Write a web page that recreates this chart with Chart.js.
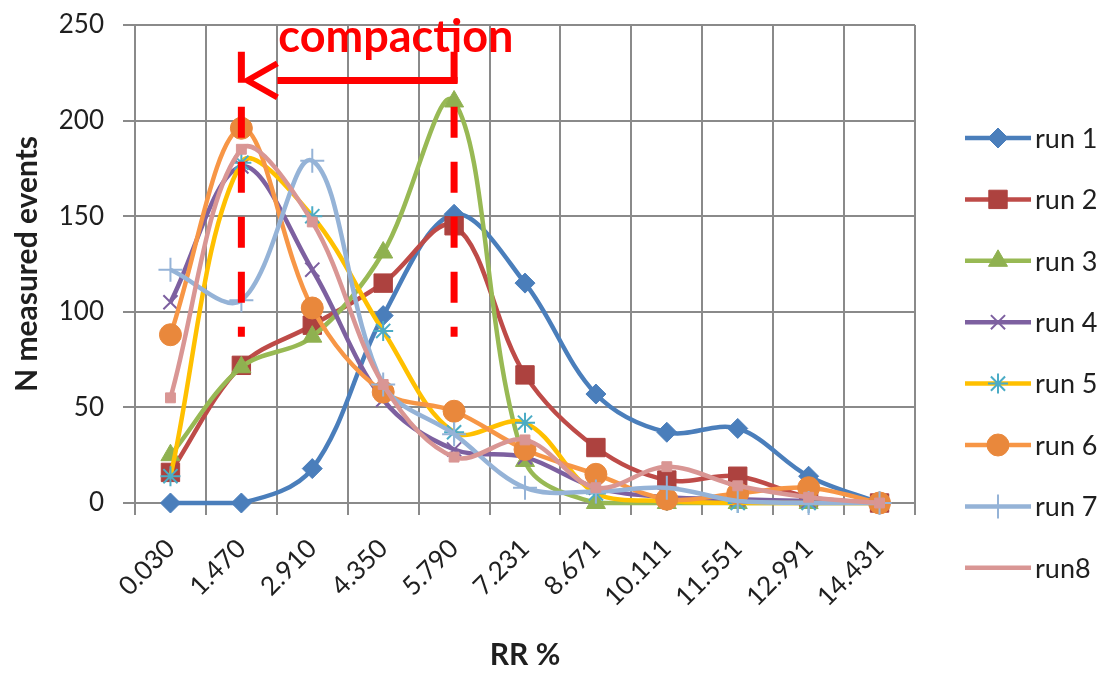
<!DOCTYPE html>
<html>
<head>
<meta charset="utf-8">
<script src="https://cdn.jsdelivr.net/npm/chart.js@4/dist/chart.umd.min.js"></script>
<style>
  html, body { margin: 0; padding: 0; background: #fff; }
  canvas { display: block; }
</style>
</head>
<body>
<canvas id="rrChart" width="1110" height="675"></canvas>
<script>
// RR % bins (category axis)
const rrBins = ["0.030", "1.470", "2.910", "4.350", "5.790", "7.231", "8.671", "10.111", "11.551", "12.991", "14.431"];

// N measured events per run
const run1 = [0, 0, 18, 98, 151, 115, 57, 37, 39, 14, 0];
const run2 = [16, 72, 93, 115, 145, 67, 29, 12, 14, 3, 0];
const run3 = [25, 71, 87, 131, 210, 22, 0, 0, 0, 0, 0];
const run4 = [105, 176, 122, 54, 28, 24, 8, 3, 2, 1, 0];
const run5 = [14, 178, 150, 90, 37, 42, 5, 1, 0, 0, 0];
const run6 = [88, 196, 102, 58, 48, 28, 15, 2, 5, 8, 0];
const run7 = [122, 106, 179, 62, 36, 8, 6, 8, 1, 0, 0];
const run8 = [55, 185, 147, 62, 24, 33, 8, 19, 9, 3, 0];

const runNames = ["run 1", "run 2", "run 3", "run 4", "run 5", "run 6", "run 7", "run8"];
const yTicks = [0, 50, 100, 150, 200, 250];

// bins marked by the "compaction" arrow (from -> to)
const compactionFrom = 4;
const compactionTo = 1;

const gridColor = "#8a8a8a";
const textColor = "#1f1f1f";

// line colour, marker shape, marker size, marker fill, marker outline
const runStyles = [
  { line: "#4a7ebb", shape: "rectRot", size: 10, fill: "#4a7ebb", edge: "#4a7ebb", edgeW: 1 },
  { line: "#be4b48", shape: "rect", size: 13, fill: "#ad423f", edge: "#ad423f", edgeW: 1 },
  { line: "#98b954", shape: "triangle", size: 11, fill: "#8fb150", edge: "#8fb150", edgeW: 1 },
  { line: "#7d60a0", shape: "crossRot", size: 10, fill: "#7d60a0", edge: "#7d60a0", edgeW: 2 },
  { line: "#ffc000", shape: "star", size: 10, fill: "#4bacc6", edge: "#4bacc6", edgeW: 2 },
  { line: "#f79646", shape: "circle", size: 11, fill: "#e9883c", edge: "#e9883c", edgeW: 1 },
  { line: "#95b3d7", shape: "cross", size: 12, fill: "#95b3d7", edge: "#95b3d7", edgeW: 2 },
  { line: "#d99694", shape: "rect", size: 7, fill: "#d99694", edge: "#d99694", edgeW: 1, noLegendMarker: true },
];

const runValues = [run1, run2, run3, run4, run5, run6, run7, run8];

const datasets = runValues.map((values, i) => {
  const s = runStyles[i];
  return {
    label: runNames[i],
    data: values,
    borderColor: s.line,
    backgroundColor: s.line,
    borderWidth: 4.5,
    tension: 0.35,
    pointStyle: s.shape,
    pointRadius: s.size,
    pointBackgroundColor: s.fill,
    pointBorderColor: s.edge,
    pointBorderWidth: s.edgeW,
    clip: false,
    order: runValues.length - i, // later runs on top, like Excel
  };
});

// Excel-like legend: short line with the marker in its middle
const excelLegend = {
  id: "excelLegend",
  afterDraw(chart) {
    const { ctx, chartArea } = chart;
    const x0 = chartArea.right + 50;
    const lineLen = 66;
    ctx.save();
    chart.data.datasets.forEach((ds, i) => {
      const s = runStyles[i];
      const y = chartArea.top + 113 + i * 61.4;
      ctx.setLineDash([]);
      ctx.strokeStyle = s.line;
      ctx.lineWidth = 4.5;
      ctx.beginPath();
      ctx.moveTo(x0, y);
      ctx.lineTo(x0 + lineLen, y);
      ctx.stroke();
      if (!s.noLegendMarker) {
        ctx.fillStyle = s.fill;
        ctx.strokeStyle = s.edge;
        ctx.lineWidth = s.edgeW;
        Chart.helpers.drawPoint(ctx, { pointStyle: s.shape, radius: s.size, rotation: 0, borderWidth: s.edgeW }, x0 + lineLen / 2, y);
      }
      ctx.fillStyle = textColor;
      ctx.font = "27px Lato";
      ctx.textAlign = "left";
      ctx.textBaseline = "middle";
      ctx.fillText(ds.label, x0 + lineLen + 4, y + 1);
    });
    ctx.restore();
  },
};

// red "compaction" bracket and dashed guide lines
const compactionNote = {
  id: "compactionNote",
  afterDatasetsDraw(chart) {
    const { ctx } = chart;
    const xs = chart.scales.x;
    const ys = chart.scales.y;
    const xa = xs.getPixelForValue(compactionTo);
    const xb = xs.getPixelForValue(compactionFrom);
    const yTop = ys.getPixelForValue(236);
    const yArrow = ys.getPixelForValue(221);
    const yEnd = ys.getPixelForValue(87);
    ctx.save();
    ctx.strokeStyle = "#ff0000";
    ctx.fillStyle = "#ff0000";
    ctx.lineWidth = 7;
    ctx.lineCap = "butt";
    ctx.setLineDash([31, 24]);
    [xa, xb].forEach((px) => {
      ctx.beginPath();
      ctx.moveTo(px, yTop);
      ctx.lineTo(px, yEnd);
      ctx.stroke();
    });
    ctx.setLineDash([]);
    ctx.beginPath();
    ctx.moveTo(xa + 36, yArrow);
    ctx.lineTo(xb + 3.5, yArrow);
    ctx.stroke();
    ctx.lineWidth = 6;
    ctx.beginPath();
    ctx.moveTo(xa + 36, yArrow - 17);
    ctx.lineTo(xa + 6, yArrow);
    ctx.lineTo(xa + 36, yArrow + 17);
    ctx.stroke();
    ctx.font = "bold 45px Lato";
    ctx.textAlign = "left";
    ctx.textBaseline = "alphabetic";
    ctx.fillText("compaction", xa + 37, yTop);
    ctx.restore();
  },
};

new Chart(document.getElementById("rrChart"), {
  type: "line",
  data: { labels: rrBins, datasets },
  plugins: [compactionNote, excelLegend],
  options: {
    responsive: false,
    animation: false,
    layout: { padding: { left: 0, right: 195, top: 25, bottom: 0 } },
    plugins: {
      legend: { display: false },
      tooltip: { enabled: false },
    },
    scales: {
      x: {
        offset: true,
        grid: { offset: true, color: gridColor, lineWidth: 2, tickLength: 12 },
        border: { color: gridColor, width: 2 },
        ticks: {
          minRotation: 45,
          maxRotation: 45,
          autoSkip: false,
          padding: 18,
          color: textColor,
          font: { family: "Lato", size: 26 },
        },
        title: {
          display: true,
          text: "RR %",
          color: textColor,
          font: { family: "Lato", size: 30, weight: "bold" },
          padding: { top: 0, bottom: 2 },
        },
        afterFit: (scale) => { scale.height = 172; },
      },
      y: {
        min: yTicks[0],
        max: yTicks[yTicks.length - 1],
        grid: { color: gridColor, lineWidth: 2, tickLength: 12 },
        border: { color: gridColor, width: 2 },
        ticks: {
          stepSize: yTicks[1] - yTicks[0],
          padding: 19,
          color: textColor,
          font: { family: "Lato", size: 26 },
        },
        title: {
          display: true,
          text: "N measured events",
          color: textColor,
          font: { family: "Lato", size: 30, weight: "bold" },
          padding: { top: 9, bottom: 0 },
        },
        afterFit: (scale) => {
          scale.width = 135;
          scale.paddingTop = 0;
        },
      },
    },
  },
});
</script>
</body>
</html>
